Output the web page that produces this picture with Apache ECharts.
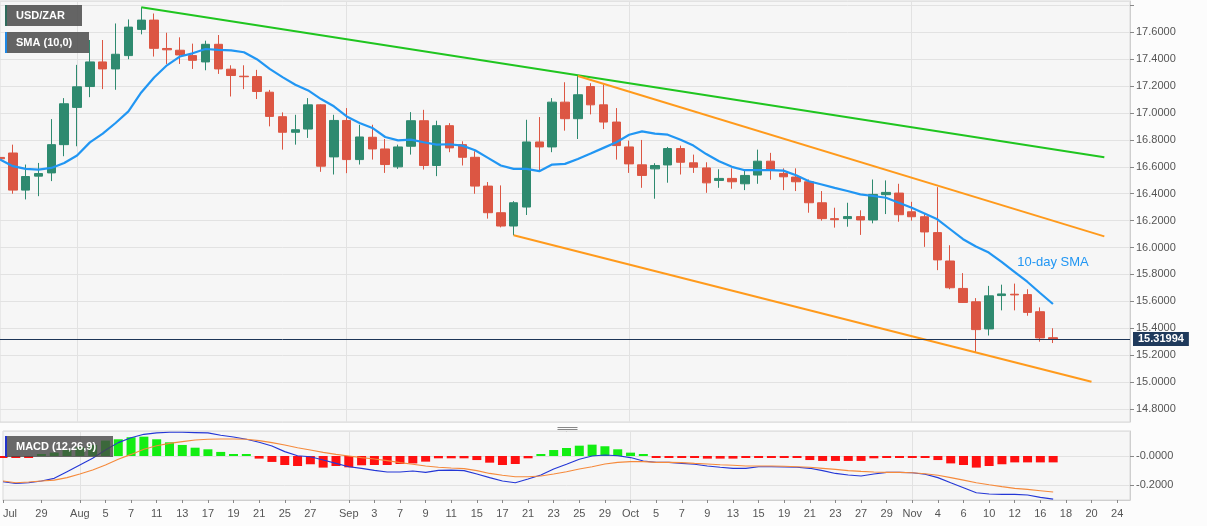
<!DOCTYPE html>
<html>
<head>
<meta charset="utf-8">
<script src="https://cdn.jsdelivr.net/npm/echarts@6/dist/echarts.min.js"></script>
<style>
html,body{margin:0;padding:0;background:#fcfcfc;}
#chart{width:1207px;height:526px;}
</style>
</head>
<body>
<div id="chart"></div>
<script>
// ---------- categories (trading days) ----------
const dates = [
 '2020-07-24','2020-07-27','2020-07-28','2020-07-29','2020-07-30','2020-07-31',
 '2020-08-03','2020-08-04','2020-08-05','2020-08-06','2020-08-07',
 '2020-08-10','2020-08-11','2020-08-12','2020-08-13','2020-08-14',
 '2020-08-17','2020-08-18','2020-08-19','2020-08-20','2020-08-21',
 '2020-08-24','2020-08-25','2020-08-26','2020-08-27','2020-08-28','2020-08-31',
 '2020-09-01','2020-09-02','2020-09-03','2020-09-04',
 '2020-09-07','2020-09-08','2020-09-09','2020-09-10','2020-09-11',
 '2020-09-14','2020-09-15','2020-09-16','2020-09-17','2020-09-18',
 '2020-09-21','2020-09-22','2020-09-23','2020-09-24','2020-09-25',
 '2020-09-28','2020-09-29','2020-09-30',
 '2020-10-01','2020-10-02',
 '2020-10-05','2020-10-06','2020-10-07','2020-10-08','2020-10-09',
 '2020-10-12','2020-10-13','2020-10-14','2020-10-15','2020-10-16',
 '2020-10-19','2020-10-20','2020-10-21','2020-10-22','2020-10-23',
 '2020-10-26','2020-10-27','2020-10-28','2020-10-29','2020-10-30',
 '2020-11-02','2020-11-03','2020-11-04','2020-11-05','2020-11-06',
 '2020-11-09','2020-11-10','2020-11-11','2020-11-12','2020-11-13',
 '2020-11-16','2020-11-17','2020-11-18','2020-11-19','2020-11-20',
 '2020-11-23','2020-11-24','2020-11-25'
];

// ---------- x tick labels ----------
const xTickDates = ['2020-07-24','2020-07-29','2020-08-03','2020-08-05','2020-08-07','2020-08-11','2020-08-13','2020-08-17','2020-08-19','2020-08-21','2020-08-25','2020-08-27',
 '2020-09-01','2020-09-03','2020-09-07','2020-09-09','2020-09-11','2020-09-15','2020-09-17','2020-09-21','2020-09-23','2020-09-25','2020-09-29',
 '2020-10-01','2020-10-05','2020-10-07','2020-10-09','2020-10-13','2020-10-15','2020-10-19','2020-10-21','2020-10-23','2020-10-27','2020-10-29',
 '2020-11-02','2020-11-04','2020-11-06','2020-11-10','2020-11-12','2020-11-16','2020-11-18','2020-11-20','2020-11-24'];
const xTickText = ['Jul','29','Aug','5','7','11','13','17','19','21','25','27',
 'Sep','3','7','9','11','15','17','21','23','25','29',
 'Oct','5','7','9','13','15','19','21','23','27','29',
 'Nov','4','6','10','12','16','18','20','24'];
const monthStarts = ['2020-08-03','2020-09-01','2020-10-01','2020-11-02'];

// ---------- OHLC ----------
const opens = [16.67,16.703,16.427,16.531,16.555,16.765,17.042,17.197,17.38,17.328,
 17.427,17.622,17.691,17.48,17.467,17.427,17.38,17.511,17.326,17.274,
 17.271,17.155,16.973,16.857,16.881,17.061,16.674,16.945,16.654,16.82,
 16.733,16.60,16.753,16.943,16.61,16.906,16.765,16.671,16.457,16.259,
 16.16,16.301,16.785,16.748,17.081,16.958,17.197,17.061,16.933,16.748,
 16.615,16.585,16.614,16.736,16.63,16.592,16.499,16.514,16.474,16.539,
 16.642,16.551,16.524,16.489,16.333,16.215,16.215,16.23,16.205,16.393,
 16.405,16.266,16.229,16.111,15.90,15.696,15.597,15.395,15.643,15.653,
 15.65,15.523,15.33];
const highs = [16.815,16.765,16.617,16.629,16.955,17.111,17.358,17.543,17.543,17.666,
 17.696,17.785,17.74,17.597,17.563,17.516,17.538,17.58,17.355,17.355,
 17.321,17.172,17.005,16.987,17.111,17.065,16.987,17.037,16.913,16.913,
 16.807,16.765,17.007,17.024,16.943,16.925,16.79,16.716,16.487,16.462,
 16.345,16.95,16.97,17.111,17.229,17.279,17.222,17.21,17.037,16.795,
 16.80,16.627,16.748,16.758,16.691,16.634,16.582,16.589,16.582,16.728,
 16.704,16.589,16.589,16.506,16.42,16.296,16.333,16.277,16.506,16.499,
 16.474,16.34,16.249,16.449,16.017,15.81,15.624,15.715,15.724,15.732,
 15.69,15.555,15.40];
const lows = [16.47,16.40,16.358,16.382,16.494,16.679,16.753,17.118,17.178,17.173,
 17.40,17.585,17.42,17.365,17.365,17.328,17.318,17.291,17.123,17.178,
 17.104,16.901,16.728,16.765,16.815,16.563,16.543,16.553,16.617,16.654,
 16.555,16.585,16.691,16.58,16.531,16.709,16.61,16.40,16.215,16.15,
 16.091,16.242,16.568,16.709,16.869,16.807,16.99,16.881,16.654,16.555,
 16.444,16.363,16.482,16.543,16.555,16.407,16.444,16.437,16.427,16.474,
 16.504,16.427,16.42,16.259,16.20,16.148,16.155,16.094,16.18,16.249,
 16.192,16.20,16.005,15.832,15.69,15.59,15.224,15.346,15.533,15.533,
 15.493,15.30,15.29];
const closes = [16.66,16.427,16.528,16.55,16.765,17.069,17.195,17.38,17.328,17.437,
 17.639,17.691,17.481,17.47,17.432,17.392,17.511,17.328,17.279,17.27,
 17.16,16.975,16.857,16.876,17.061,16.605,16.945,16.654,16.822,16.733,
 16.617,16.748,16.943,16.61,16.906,16.741,16.671,16.457,16.259,16.16,
 16.333,16.785,16.748,17.081,16.958,17.136,17.061,16.933,16.758,16.622,
 16.536,16.61,16.736,16.634,16.597,16.481,16.514,16.489,16.536,16.642,
 16.573,16.526,16.489,16.333,16.215,16.207,16.23,16.205,16.395,16.41,
 16.244,16.229,16.116,15.908,15.701,15.592,15.39,15.641,15.655,15.648,
 15.518,15.328,15.31994];

// ---------- 10-day SMA ----------
const sma10 = [16.654,16.605,16.585,16.58,16.592,16.629,16.684,16.782,16.847,16.926,
 17.012,17.153,17.264,17.355,17.42,17.444,17.476,17.469,17.466,17.452,
 17.40,17.328,17.267,17.21,17.168,17.104,17.05,16.975,16.926,16.889,
 16.822,16.797,16.802,16.783,16.765,16.768,16.758,16.723,16.667,16.61,
 16.585,16.585,16.568,16.617,16.622,16.659,16.699,16.741,16.783,16.839,
 16.864,16.847,16.839,16.802,16.758,16.695,16.641,16.60,16.575,16.575,
 16.575,16.572,16.538,16.493,16.469,16.444,16.42,16.395,16.383,16.37,
 16.333,16.296,16.254,16.21,16.136,16.062,16.008,15.963,15.894,15.82,
 15.746,15.662,15.58];

// ---------- MACD (12,26,9) ----------
const macdLine = [-0.177,-0.189,-0.184,-0.172,-0.154,-0.108,-0.062,-0.016,0.041,0.092,
 0.126,0.149,0.159,0.163,0.163,0.161,0.159,0.143,0.131,0.115,
 0.094,0.069,0.03,0.002,-0.005,-0.028,-0.051,-0.074,-0.085,-0.099,
 -0.11,-0.11,-0.103,-0.113,-0.099,-0.097,-0.101,-0.124,-0.149,-0.172,
 -0.184,-0.159,-0.131,-0.09,-0.057,-0.023,0,0.007,0.002,-0.011,
 -0.034,-0.044,-0.044,-0.051,-0.057,-0.069,-0.078,-0.085,-0.085,-0.074,
 -0.074,-0.076,-0.078,-0.085,-0.101,-0.12,-0.131,-0.138,-0.124,-0.113,
 -0.113,-0.115,-0.126,-0.149,-0.184,-0.218,-0.253,-0.262,-0.264,-0.264,
 -0.269,-0.285,-0.297];
const signalLine = [-0.172,-0.184,-0.179,-0.172,-0.166,-0.149,-0.124,-0.097,-0.062,-0.023,
 0.011,0.046,0.071,0.087,0.099,0.11,0.115,0.117,0.117,0.115,
 0.106,0.092,0.076,0.057,0.041,0.025,0.011,0,-0.011,-0.021,
 -0.032,-0.046,-0.057,-0.069,-0.078,-0.083,-0.087,-0.101,-0.12,-0.133,
 -0.143,-0.143,-0.138,-0.124,-0.108,-0.09,-0.074,-0.055,-0.044,-0.039,
 -0.039,-0.044,-0.044,-0.046,-0.051,-0.055,-0.06,-0.064,-0.069,-0.069,
 -0.069,-0.071,-0.074,-0.078,-0.085,-0.092,-0.101,-0.106,-0.11,-0.113,
 -0.113,-0.115,-0.122,-0.133,-0.149,-0.166,-0.184,-0.198,-0.211,-0.223,
 -0.23,-0.239,-0.248];
const macdHist = [-0.006,-0.011,-0.009,0.005,0.023,0.041,0.06,0.076,0.106,0.115,
 0.129,0.133,0.115,0.094,0.076,0.057,0.046,0.028,0.009,0.002,
 -0.018,-0.041,-0.062,-0.069,-0.057,-0.08,-0.069,-0.078,-0.064,-0.062,
 -0.062,-0.055,-0.051,-0.039,-0.016,-0.016,-0.016,-0.028,-0.046,-0.062,
 -0.055,-0.016,0.004,0.041,0.055,0.071,0.078,0.067,0.046,0.023,
 0.002,-0.005,-0.005,-0.005,-0.006,-0.018,-0.018,-0.018,-0.014,-0.007,
 -0.007,-0.007,-0.008,-0.028,-0.034,-0.034,-0.034,-0.034,-0.016,-0.007,
 -0.006,-0.006,-0.011,-0.028,-0.051,-0.062,-0.08,-0.069,-0.057,-0.044,
 -0.044,-0.044,-0.044];

// ---------- trend lines (category index, price) ----------
const greenTrend = [[11, 17.786], [86, 16.672]];
const upperChannel = [[45, 17.276], [86, 16.083]];
const lowerChannel = [[40, 16.092], [85, 15.002]];
const lastPrice = 15.31994;

// ---------- build ----------
const candleData = opens.map((o, i) => [o, closes[i], lows[i], highs[i]]);
const tickSet = new Set(xTickDates);
const tickMap = {};
xTickDates.forEach((d, i) => { tickMap[d] = xTickText[i]; });
const monthSet = new Set(monthStarts);
const FONT = 'Liberation Sans, Arial, sans-serif';

function isMult(v, step) {
  const r = v / step;
  return Math.abs(r - Math.round(r)) < 1e-6;
}

function tag(left, top, w, accent, fill, label) {
  return {type: 'group', left: left, top: top, zlevel: 2, children: [
    {type: 'rect', zlevel: 2, z: 100, shape: {x: 0, y: 0, width: w, height: 21}, style: {fill: fill}},
    {type: 'rect', zlevel: 2, z: 101, shape: {x: 0, y: 0, width: 2, height: 21}, style: {fill: accent}},
    {type: 'text', zlevel: 2, z: 102, x: 11, y: 11, style: {text: label, fill: '#fff', fontSize: 11, fontWeight: 'bold', fontFamily: FONT, verticalAlign: 'middle'}}
  ]};
}

const chart = echarts.init(document.getElementById('chart'), null, {renderer: 'canvas'});
const option = {
  animation: false,
  backgroundColor: '#fcfcfc',
  textStyle: {fontFamily: FONT},
  grid: [
    {left: 0, right: 77, top: 1, height: 421, show: true, backgroundColor: '#f6f6f6', borderColor: '#d9d9d9', borderWidth: 1},
    {left: 0, right: 77, top: 431, height: 69, show: true, backgroundColor: '#f6f6f6', borderColor: '#d9d9d9', borderWidth: 1}
  ],
  xAxis: [
    {
      type: 'category', gridIndex: 0, data: dates, boundaryGap: false,
      axisLine: {show: false, onZero: false}, axisTick: {show: false}, axisLabel: {show: false},
      splitLine: {show: true, interval: (i, v) => monthSet.has(v), lineStyle: {color: '#e2e2e2', width: 1}}
    },
    {
      type: 'category', gridIndex: 1, data: dates, boundaryGap: false, position: 'bottom',
      axisLine: {show: true, onZero: false, lineStyle: {color: '#cfcfcf'}},
      axisTick: {show: true, length: 3, interval: (i, v) => tickSet.has(v), lineStyle: {color: '#888'}},
      axisLabel: {
        show: true, interval: (i, v) => tickSet.has(v), formatter: (v) => tickMap[v] || '',
        color: '#555', fontSize: 11, margin: 8, fontFamily: FONT, alignMinLabel: 'left'
      },
      splitLine: {show: true, interval: (i, v) => monthSet.has(v), lineStyle: {color: '#e2e2e2', width: 1}}
    }
  ],
  yAxis: [
    {
      type: 'value', gridIndex: 0, position: 'right', min: 14.703, max: 17.833,
      minInterval: 0.2, maxInterval: 0.2, splitNumber: 15, scale: true,
      axisLine: {show: true, lineStyle: {color: '#cfcfcf'}},
      axisTick: {show: true, length: 4, lineStyle: {color: '#888'}},
      axisLabel: {
        showMinLabel: false, showMaxLabel: false, color: '#555', fontSize: 11, margin: 6, fontFamily: FONT,
        formatter: (v) => (isMult(v, 0.2) && v < 17.7) ? v.toFixed(4) : ''
      },
      splitLine: {show: true, lineStyle: {color: '#e2e2e2', width: 1}}
    },
    {
      type: 'value', gridIndex: 1, position: 'right', min: -0.303, max: 0.172,
      minInterval: 0.2, maxInterval: 0.2, splitNumber: 2,
      axisLine: {show: true, lineStyle: {color: '#cfcfcf'}},
      axisTick: {show: true, length: 4, lineStyle: {color: '#888'}},
      axisLabel: {
        showMinLabel: false, showMaxLabel: false, color: '#555', fontSize: 11, margin: 6, fontFamily: FONT,
        formatter: (v) => {
          if (Math.abs(v) < 1e-9) return '-0.0000';
          return isMult(v, 0.2) ? v.toFixed(4) : '';
        }
      },
      splitLine: {show: true, lineStyle: {color: '#e2e2e2', width: 1}}
    }
  ],
  series: [
    {
      name: 'USD/ZAR', type: 'candlestick', xAxisIndex: 0, yAxisIndex: 0,
      data: candleData, barWidth: 9,
      itemStyle: {color: '#2e8a6f', color0: '#dc5643', borderColor: '#2e8a6f', borderColor0: '#dc5643', borderWidth: 1},
      markLine: {
        silent: true, symbol: ['none', 'none'],
        lineStyle: {color: '#1d3557', width: 1, type: 'solid'},
        label: {
          show: true, position: 'end', distance: 3,
          formatter: () => lastPrice.toFixed(5),
          backgroundColor: '#1f3a5c', color: '#fff', fontWeight: 'bold', fontSize: 11,
          padding: [2, 5, 1, 5], fontFamily: FONT
        },
        data: [{yAxis: lastPrice}]
      }
    },
    {
      name: 'SMA (10,0)', type: 'line', xAxisIndex: 0, yAxisIndex: 0,
      data: sma10, showSymbol: false, smooth: false,
      lineStyle: {color: '#2196f3', width: 2.2}, itemStyle: {color: '#2196f3'},
      markPoint: {
        silent: true, symbol: 'rect', symbolSize: 1, itemStyle: {color: 'rgba(0,0,0,0)'},
        label: {show: true, position: 'inside', color: '#2196f3', fontSize: 13, fontFamily: FONT},
        data: [{coord: [82, 15.89], value: '10-day SMA', label: {formatter: '10-day SMA'}}]
      }
    },
    {
      name: 'trend', type: 'line', xAxisIndex: 0, yAxisIndex: 0, data: greenTrend,
      showSymbol: false, symbol: 'none', lineStyle: {color: '#1fc51f', width: 2}
    },
    {
      name: 'upper', type: 'line', xAxisIndex: 0, yAxisIndex: 0, data: upperChannel,
      showSymbol: false, symbol: 'none', lineStyle: {color: '#ff9a1c', width: 2}
    },
    {
      name: 'lower', type: 'line', xAxisIndex: 0, yAxisIndex: 0, data: lowerChannel,
      showSymbol: false, symbol: 'none', lineStyle: {color: '#ff9a1c', width: 2}
    },
    {
      name: 'hist', type: 'bar', xAxisIndex: 1, yAxisIndex: 1, data: macdHist,
      barWidth: 9, barMinHeight: 2,
      itemStyle: {color: (p) => p.value >= 0 ? '#13ee13' : '#ff1010'}
    },
    {
      name: 'MACD', type: 'line', xAxisIndex: 1, yAxisIndex: 1, data: macdLine,
      showSymbol: false, symbol: 'none', lineStyle: {color: '#2437d6', width: 1.1}
    },
    {
      name: 'Signal', type: 'line', xAxisIndex: 1, yAxisIndex: 1, data: signalLine,
      showSymbol: false, symbol: 'none', lineStyle: {color: '#f58a3c', width: 1.1}
    }
  ],
  graphic: [
    tag(5, 5, 77, '#2f6b5c', 'rgba(88,88,88,0.93)', 'USD/ZAR'),
    tag(5, 32, 84, '#1e88e5', 'rgba(88,88,88,0.93)', 'SMA (10,0)'),
    tag(5, 436, 108, '#2233cc', 'rgba(70,70,70,0.8)', 'MACD (12,26,9)'),
    {type: 'group', left: 555, top: 425, children: [
      {type: 'line', shape: {x1: 0, y1: 0.5, x2: 20, y2: 0.5}, style: {stroke: '#888', lineWidth: 1}},
      {type: 'line', shape: {x1: 0, y1: 2.5, x2: 20, y2: 2.5}, style: {stroke: '#888', lineWidth: 1}},
      {type: 'line', shape: {x1: 0, y1: 4.5, x2: 20, y2: 4.5}, style: {stroke: '#888', lineWidth: 1}}
    ]}
  ]
};
chart.setOption(option);
</script>
</body>
</html>
